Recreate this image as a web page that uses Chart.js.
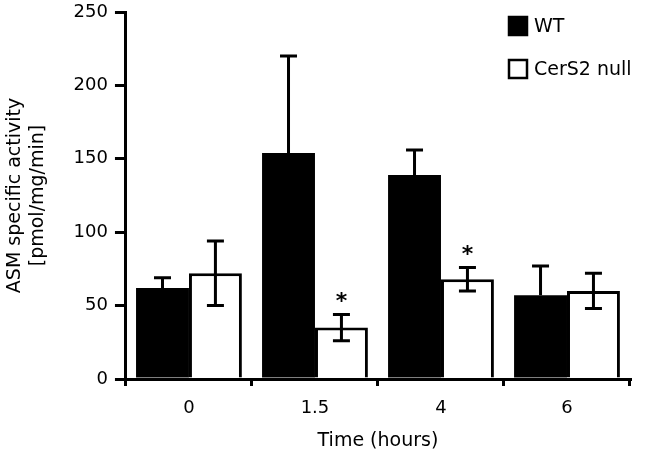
<!DOCTYPE html>
<html>
<head>
<meta charset="utf-8">
<script src="https://cdn.jsdelivr.net/npm/chart.js@4"></script>
<style>
  html, body { margin: 0; padding: 0; background: #fff; }
  #wrap { width: 650px; height: 456px; }
</style>
</head>
<body>
<div id="wrap"><canvas id="asmChart"></canvas></div>
<script>
// data
const timeLabels = ['0', '1.5', '4', '6'];
const wtValues = [62, 154, 139, 57];
const wtErrors = [7, 66, 17, 20];
const nullValues = [72, 35, 68, 60];
const nullErrors = [22, 9, 8, 12];
const significant = [false, true, true, false];
const yTicks = [0, 50, 100, 150, 200, 250];

const FONT = 'DejaVu Sans';

// error bars + asterisks
const errorBarPlugin = {
    id: 'errorBars',
    afterDatasetsDraw(chart) {
        const ctx = chart.ctx;
        const y = chart.scales.y;
        const errs = [wtErrors, nullErrors];
        ctx.save();
        ctx.strokeStyle = '#000';
        ctx.lineWidth = 3;
        chart.data.datasets.forEach((ds, di) => {
            const meta = chart.getDatasetMeta(di);
            meta.data.forEach((bar, i) => {
                const v = ds.data[i];
                const e = errs[di][i];
                const top = y.getPixelForValue(v + e);
                const bottom = di === 0 ? y.getPixelForValue(v) : y.getPixelForValue(v - e);
                const cap = 8.5;
                ctx.beginPath();
                ctx.moveTo(bar.x, bottom);
                ctx.lineTo(bar.x, top);
                ctx.moveTo(bar.x - cap, top);
                ctx.lineTo(bar.x + cap, top);
                if (di === 1) {
                    ctx.moveTo(bar.x - cap, bottom);
                    ctx.lineTo(bar.x + cap, bottom);
                }
                ctx.stroke();
                if (di === 1 && significant[i]) {
                    ctx.fillStyle = '#000';
                    ctx.font = 'bold 22px ' + FONT;
                    ctx.textAlign = 'center';
                    ctx.textBaseline = 'alphabetic';
                    ctx.fillText('*', bar.x, top - 6);
                }
            });
        });
        ctx.restore();
    }
};

// legend inside the plot, top right
const boxLegendPlugin = {
    id: 'boxLegend',
    afterDraw(chart) {
        const ctx = chart.ctx;
        const area = chart.chartArea;
        const x = area.right - 121;
        const rows = [
            { text: 'WT', fill: '#000', cy: area.top + 14 },
            { text: 'CerS2 null', fill: '#fff', cy: area.top + 57 }
        ];
        ctx.save();
        ctx.font = '19px ' + FONT;
        ctx.textBaseline = 'middle';
        ctx.textAlign = 'left';
        rows.forEach(r => {
            ctx.fillStyle = r.fill;
            ctx.fillRect(x, r.cy - 9, 18, 18);
            ctx.strokeStyle = '#000';
            ctx.lineWidth = 2.5;
            ctx.strokeRect(x, r.cy - 9, 18, 18);
            ctx.fillStyle = '#000';
            ctx.fillText(r.text, x + 25, r.cy + 1);
        });
        ctx.restore();
    }
};

new Chart(document.getElementById('asmChart'), {
    type: 'bar',
    data: {
        labels: timeLabels,
        datasets: [
            {
                label: 'WT',
                data: wtValues,
                backgroundColor: '#000',
                borderColor: '#000',
                borderWidth: 0,
                categoryPercentage: 0.84,
                barPercentage: 1
            },
            {
                label: 'CerS2 null',
                data: nullValues,
                backgroundColor: '#fff',
                borderColor: '#000',
                borderWidth: 3,
                categoryPercentage: 0.84,
                barPercentage: 1
            }
        ]
    },
    options: {
        responsive: true,
        maintainAspectRatio: false,
        animation: false,
        layout: { padding: { top: 12, right: 20, bottom: 4, left: 4 } },
        plugins: {
            legend: { display: false },
            tooltip: { enabled: false }
        },
        scales: {
            x: {
                afterFit(axis) {
                    axis.height = 73;
                },
                grid: {
                    display: true,
                    drawOnChartArea: false,
                    drawTicks: true,
                    tickLength: 7,
                    color: '#000',
                    lineWidth: 3,
                    offset: true
                },
                border: { display: true, color: '#000', width: 3 },
                ticks: { color: '#000', font: { family: FONT, size: 18 }, padding: 12 },
                title: {
                    display: true,
                    text: 'Time (hours)',
                    color: '#000',
                    font: { family: FONT, size: 19 },
                    padding: { top: 3, bottom: 0 }
                }
            },
            y: {
                min: 0,
                max: 250,
                afterBuildTicks(axis) {
                    axis.ticks = yTicks.map(v => ({ value: v }));
                },
                afterFit(axis) {
                    axis.paddingTop = 0;
                    axis.paddingBottom = 0;
                },
                grid: {
                    display: true,
                    drawOnChartArea: false,
                    drawTicks: true,
                    tickLength: 11,
                    color: '#000',
                    lineWidth: 3
                },
                border: { display: true, color: '#000', width: 3 },
                ticks: { color: '#000', font: { family: FONT, size: 18 }, padding: 7 },
                title: {
                    display: true,
                    text: ['ASM specific activity', '[pmol/mg/min]'],
                    color: '#000',
                    font: { family: FONT, size: 19 },
                    padding: { top: 0, bottom: 17 }
                }
            }
        }
    },
    plugins: [errorBarPlugin, boxLegendPlugin]
});
</script>
</body>
</html>
